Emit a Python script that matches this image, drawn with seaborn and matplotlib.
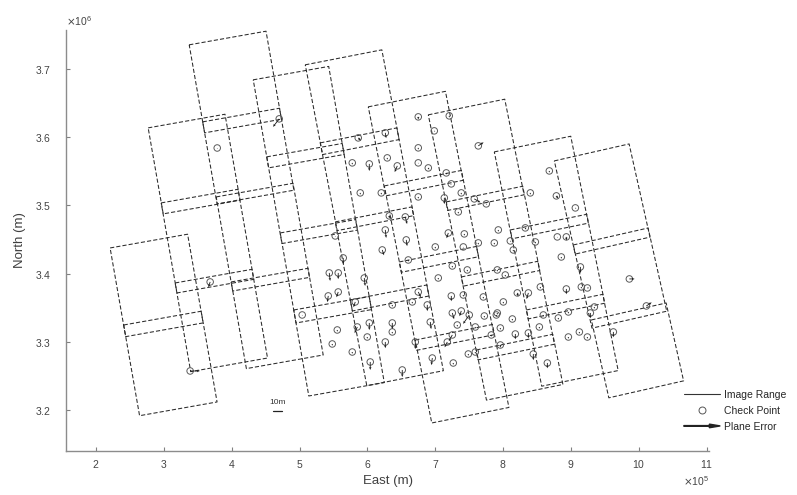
import numpy as np
import pandas as pd
import matplotlib
matplotlib.use('Agg')
import matplotlib.pyplot as plt
import matplotlib.patches as mpatches
from matplotlib.lines import Line2D
from matplotlib.legend_handler import HandlerPatch
import seaborn as sns

# image footprints: top-left corner (East x1e5 m, North x1e6 m), size in km, rotation in deg
img_e = [2.206, 2.406, 2.767, 2.959, 3.165, 3.372, 3.571, 3.770, 3.991,
         4.316, 4.515, 4.714, 4.913, 5.083, 5.304, 5.525, 5.746,
         6.012, 6.248, 6.469, 6.705, 6.897, 7.162, 7.383, 7.605,
         7.870, 8.106, 8.342, 8.755, 9.035, 9.301]
img_n = [3.4375, 3.3246, 3.6135, 3.5035, 3.3862, 3.7352, 3.6223, 3.5123, 3.3877,
         3.6839, 3.5710, 3.4595, 3.3466, 3.7059, 3.5915, 3.4757, 3.3613,
         3.6443, 3.5284, 3.4170, 3.3026, 3.6326, 3.5050, 3.3950, 3.2880,
         3.5783, 3.4639, 3.3466, 3.5651, 3.4419, 3.3320]
img_w = [116, 116, 115, 115, 115, 115, 115, 115, 115,
         113, 113, 113, 113, 115, 115, 115, 115,
         116, 116, 116, 116, 115, 115, 115, 115,
         115, 115, 115, 113, 113, 113]
img_h = [132, 135, 128, 134, 132, 131, 122, 140, 129,
         131, 129, 134, 128, 134, 131, 133, 128,
         133, 129, 132, 124, 143, 126, 124, 75,
         130, 133, 114, 140, 125, 117]
img_rot = [10, 10, 10, 10, 10, 10, 10, 10, 10,
           10, 10, 10, 10, 11, 11, 11, 11,
           11.3, 11.3, 11.3, 11.3, 11.5, 11.5, 11.5, 11.5,
           11.5, 11.5, 11.5, 12.7, 12.7, 12.7]

# check points (East x1e5 m, North x1e6 m) and plane error (m)
cp_e = [3.785, 4.699, 3.681, 3.386, 5.864, 6.263, 6.749, 7.206, 6.985, 7.634,
        6.749, 5.776, 6.027, 6.292, 6.440, 6.749, 6.897, 7.162, 7.236, 7.383,
        5.894, 6.204, 6.749, 7.133, 7.575, 7.752, 8.681, 8.401, 8.785, 9.065,
        6.322, 6.558, 7.339, 6.263, 6.572, 7.192, 7.428, 7.929, 8.327, 6.218,
        7.000, 7.413, 7.634, 7.870, 8.106, 8.150, 8.475, 8.799, 8.932, 5.525,
        5.643, 6.602, 7.251, 7.472, 5.437, 5.569, 5.953, 7.044, 5.422, 5.569,
        6.749, 7.236, 7.413, 7.708, 5.820, 6.366, 6.882, 7.251, 7.383, 7.501,
        6.661, 5.038, 5.555, 5.850, 6.027, 6.366, 5.997, 6.366, 6.926, 7.324,
        7.590, 7.251, 7.723, 7.900, 8.136, 5.481, 5.776, 6.041, 6.263, 6.513,
        6.705, 6.956, 7.265, 7.487, 7.177, 7.590, 7.959, 7.826, 7.959, 8.858,
        9.139, 7.914, 8.032, 9.861, 8.549, 8.932, 9.153, 9.242, 8.209, 8.372,
        8.003, 9.345, 10.112, 7.914, 8.593, 8.814, 8.962, 9.286, 8.534, 8.180,
        8.372, 8.962, 9.124, 9.242, 9.625, 8.445, 8.652]
cp_n = [3.5840, 3.6267, 3.3877, 3.2572, 3.5988, 3.6062, 3.6296, 3.6311, 3.6091, 3.5871,
        3.5842, 3.5622, 3.5607, 3.5695, 3.5578, 3.5622, 3.5548, 3.5475, 3.5314, 3.5182,
        3.5182, 3.5182, 3.5123, 3.5109, 3.5094, 3.5021, 3.5504, 3.5182, 3.5138, 3.4962,
        3.4845, 3.4830, 3.4903, 3.4639, 3.4493, 3.4595, 3.4581, 3.4639, 3.4669, 3.4346,
        3.4390, 3.4390, 3.4449, 3.4449, 3.4478, 3.4346, 3.4463, 3.4537, 3.4537, 3.4551,
        3.4229, 3.4199, 3.4111, 3.4053, 3.4009, 3.4009, 3.3935, 3.3935, 3.3672, 3.3730,
        3.3730, 3.3672, 3.3686, 3.3657, 3.3584, 3.3540, 3.3540, 3.3422, 3.3452, 3.3393,
        3.3584, 3.3393, 3.3173, 3.3217, 3.3276, 3.3276, 3.3070, 3.3144, 3.3290, 3.3246,
        3.3217, 3.3100, 3.3378, 3.3393, 3.3334, 3.2968, 3.2850, 3.2704, 3.2997, 3.2587,
        3.2997, 3.2762, 3.2689, 3.2821, 3.2997, 3.2850, 3.2953, 3.3100, 3.3202, 3.4243,
        3.4097, 3.4053, 3.3979, 3.3921, 3.3804, 3.3774, 3.3804, 3.3789, 3.3716, 3.3716,
        3.3584, 3.3510, 3.3525, 3.3422, 3.3393, 3.3349, 3.3437, 3.3422, 3.3217, 3.3114,
        3.3129, 3.3070, 3.3144, 3.3070, 3.3144, 3.2821, 3.2689]
err_e = [0, -7, -2, 11, 3, 1, 0, 0, 1, 6,
         0, 0, 0, 0, -3, 0, 1, 0, -1, 0,
         0, 0, 0, 0, 7, 1, 0, 0, 2, 1,
         0, 2, 0, 1, 1, -2, 0, 0, 1, 2,
         0, 0, 0, 0, 1, 0, 0, 0, 0, 0,
         0, 0, 0, 0, 1, 0, 1, 0, -1, -2,
         3, 0, 0, 0, -2, 0, 0, 2, -2, -7,
         0, 0, 0, -3, 0, 0, 0, 0, 1, 0,
         0, -4, 0, 0, 0, 0, 0, 0, 0, 0,
         0, -1, 0, 0, -3, 0, 0, 0, 0, 0,
         0, 0, 0, 6, 0, 0, 0, 2, 1, -2,
         0, 0, 6, 0, 0, 0, 0, 0, 0, 0,
         0, 0, 0, 0, 0, 0, 0]
err_n = [-1, -9, -6, 0, -3, -6, -3, -2, -1, 4,
         -2, -2, -8, -2, -7, -1, -2, -2, -1, -2,
         -2, -2, -2, -7, -4, -1, -2, -2, -3, -1,
         -3, -8, -2, -9, -7, -6, -2, -2, -2, -6,
         -2, -1, -2, -2, -1, -2, -2, -1, -4, -1,
         -7, -2, -2, -2, -9, -7, -9, -2, -7, -6,
         -6, -6, -2, -2, -6, -2, -7, -7, -6, -10,
         -2, -1, -2, -7, -8, -7, -2, -2, -8, -2,
         -2, -7, -2, -2, -2, -2, -2, -9, -7, -8,
         -8, -8, -2, -2, -6, -2, -3, -2, -2, -2,
         -7, -2, -2, 0, -2, -6, -2, 0, -4, -7,
         -2, -2, 4, -2, -2, -2, -2, -6, -2, -6,
         -6, -2, -2, -2, -6, -7, -6]

ERR_SCALE = 1300  # map metres per metre of plane error

# build footprint outlines
rows = []
for i in range(len(img_e)):
    x0 = img_e[i] * 1e5
    y0 = img_n[i] * 1e6
    t = np.radians(img_rot[i])
    w = img_w[i] * 1000
    h = img_h[i] * 1000
    ux, uy = w * np.cos(t), w * np.sin(t)
    vx, vy = h * np.sin(t), -h * np.cos(t)
    corners = [(x0, y0), (x0 + ux, y0 + uy), (x0 + ux + vx, y0 + uy + vy),
               (x0 + vx, y0 + vy), (x0, y0)]
    for x, y in corners:
        rows.append({'img': i, 'E': x, 'N': y})
rect = pd.DataFrame(rows)

pts = pd.DataFrame({'E': np.array(cp_e) * 1e5, 'N': np.array(cp_n) * 1e6,
                    'dE': np.array(err_e) * ERR_SCALE, 'dN': np.array(err_n) * ERR_SCALE})

sns.set_style('ticks')
plt.rcParams['font.family'] = ['Liberation Sans', 'DejaVu Sans']

fig = plt.figure(figsize=(7.97, 4.95), dpi=100)
ax = fig.add_axes([0.083, 0.089, 0.807, 0.8505])

sns.lineplot(data=rect, x='E', y='N', units='img', estimator=None, sort=False,
             color='#2a2a2a', lw=0.75, legend=False, ax=ax)
for ln in ax.get_lines():
    ln.set_dashes([4, 2])

sns.scatterplot(data=pts, x='E', y='N', marker='o', s=22, facecolor='none',
                edgecolor='#5a5a5a', linewidth=0.7, legend=False, ax=ax, zorder=3)
ax.quiver(pts['E'], pts['N'], pts['dE'], pts['dN'], angles='xy', scale_units='xy', scale=1,
          width=0.0013, headwidth=3, headlength=3.5, headaxislength=3, minlength=0,
          color='#1a1a1a', zorder=4)

# 10 m scale arrow
ax.text(4.67e5, 3.2117e6, '10m', ha='center', va='center', fontsize=6, color='#333333')
ax.plot([4.67e5 - 5 * ERR_SCALE, 4.67e5 + 5 * ERR_SCALE], [3.1985e6, 3.1985e6], color='#222222', lw=0.9)

ax.set_xlim(1.558e5, 11.04e5)
ax.set_ylim(3.14e6, 3.757e6)
ax.set_xticks(np.arange(2, 12) * 1e5)
ax.set_yticks(np.arange(3.2, 3.75, 0.1) * 1e6)
ax.ticklabel_format(axis='x', style='sci', scilimits=(5, 5), useMathText=True, useOffset=False)
ax.ticklabel_format(axis='y', style='sci', scilimits=(6, 6), useMathText=True, useOffset=False)
ax.set_xlabel('East (m)', fontsize=9.5, color='#404040')
ax.set_ylabel('North (m)', fontsize=9.5, color='#404040', labelpad=6)
ax.tick_params(direction='in', length=3, width=0.8, color='#808080', labelsize=7.5,
               labelcolor='#444444')
ax.tick_params(axis='x', pad=5)
ax.tick_params(axis='y', pad=11)
ax.xaxis.get_offset_text().set_fontsize(7.5)
ax.xaxis.get_offset_text().set_color('#444444')
ax.yaxis.get_offset_text().set_fontsize(7.5)
ax.yaxis.get_offset_text().set_color('#444444')
sns.despine(ax=ax)
for s in ['left', 'bottom']:
    ax.spines[s].set_color('#8c8c8c')
    ax.spines[s].set_linewidth(1.0)


def make_arrow(legend, orig_handle, xdescent, ydescent, width, height, fontsize):
    return mpatches.FancyArrow(0, 0.5 * height, width, 0, length_includes_head=True,
                               width=0.5, head_width=0.5 * height, head_length=0.3 * width)


handles = [Line2D([], [], color='#333333', lw=0.8),
           Line2D([], [], ls='', marker='o', mfc='none', mec='#555555', ms=5, mew=0.7),
           mpatches.FancyArrow(0, 0, 1, 0, color='#222222')]
labels = ['Image Range', 'Check Point', 'Plane Error']
fig.legend(handles, labels, loc='center left', bbox_to_anchor=(0.858, 0.17),
           frameon=False, fontsize=7.5, handlelength=3.5, handletextpad=0.4,
           labelspacing=0.55, borderpad=0, borderaxespad=0,
           handler_map={mpatches.FancyArrow: HandlerPatch(patch_func=make_arrow)})

fig.savefig('out.png', dpi=100)
